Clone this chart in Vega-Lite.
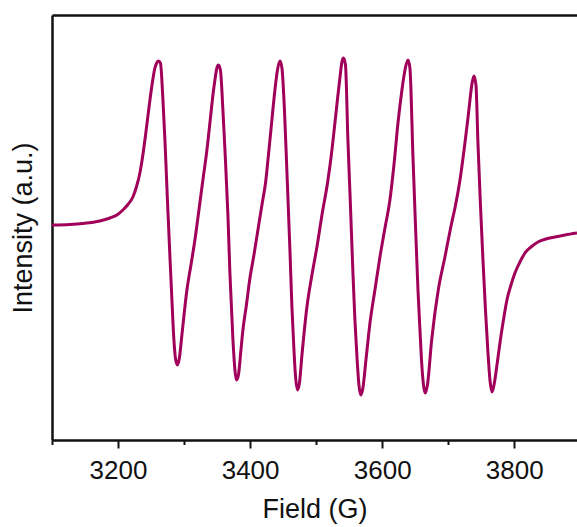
{
  "$schema": "https://vega.github.io/schema/vega-lite/v6.json",
  "width": 525,
  "height": 425,
  "autosize": "none",
  "padding": {"left": 52, "top": 15, "right": 0, "bottom": 87},
  "background": "white",
  "config": {
    "view": {"stroke": null},
    "font": "Liberation Sans",
    "axis": {"grid": false, "domainColor": "#111", "tickColor": "#111", "labelColor": "#111", "titleColor": "#111", "labelFont": "Liberation Sans", "titleFont": "Liberation Sans", "titleFontWeight": "normal", "domainWidth": 2.5, "tickWidth": 2}
  },
  "data": {"values": [
    {"field": 3100, "intensity": 0},
    {"field": 3127.1, "intensity": 0.5},
    {"field": 3146.8, "intensity": 1.5},
    {"field": 3172.5, "intensity": 4},
    {"field": 3187.7, "intensity": 7},
    {"field": 3198.3, "intensity": 10},
    {"field": 3207.4, "intensity": 15},
    {"field": 3214.9, "intensity": 20.5},
    {"field": 3222.5, "intensity": 28},
    {"field": 3227.8, "intensity": 38},
    {"field": 3233.1, "intensity": 52},
    {"field": 3236.9, "intensity": 67},
    {"field": 3240.7, "intensity": 85},
    {"field": 3244.5, "intensity": 105},
    {"field": 3248.3, "intensity": 125},
    {"field": 3252.1, "intensity": 143},
    {"field": 3255.8, "intensity": 157},
    {"field": 3258.9, "intensity": 162.5},
    {"field": 3261.1, "intensity": 164},
    {"field": 3264.2, "intensity": 162},
    {"field": 3268.0, "intensity": 125},
    {"field": 3271.0, "intensity": 85},
    {"field": 3274.8, "intensity": 25},
    {"field": 3278.6, "intensity": -32},
    {"field": 3281.6, "intensity": -75},
    {"field": 3284.6, "intensity": -115},
    {"field": 3286.9, "intensity": -133},
    {"field": 3289.9, "intensity": -140},
    {"field": 3292.9, "intensity": -133},
    {"field": 3296.7, "intensity": -110},
    {"field": 3304.3, "intensity": -65},
    {"field": 3310.4, "intensity": -40},
    {"field": 3316.4, "intensity": -15},
    {"field": 3322.5, "intensity": 15},
    {"field": 3328.5, "intensity": 45},
    {"field": 3334.6, "intensity": 75},
    {"field": 3339.1, "intensity": 102},
    {"field": 3343.7, "intensity": 130},
    {"field": 3346.7, "intensity": 145},
    {"field": 3349.7, "intensity": 157},
    {"field": 3352.0, "intensity": 160},
    {"field": 3355.0, "intensity": 155},
    {"field": 3358.8, "intensity": 115},
    {"field": 3361.9, "intensity": 75},
    {"field": 3366.4, "intensity": 10},
    {"field": 3369.4, "intensity": -48},
    {"field": 3374.0, "intensity": -115},
    {"field": 3377.0, "intensity": -145},
    {"field": 3379.3, "intensity": -155},
    {"field": 3382.3, "intensity": -150},
    {"field": 3386.1, "intensity": -125},
    {"field": 3389.1, "intensity": -105},
    {"field": 3394.4, "intensity": -80},
    {"field": 3399.3, "intensity": -55},
    {"field": 3405.8, "intensity": -30},
    {"field": 3411.8, "intensity": -5},
    {"field": 3417.9, "intensity": 20},
    {"field": 3423.9, "intensity": 45},
    {"field": 3427.0, "intensity": 65},
    {"field": 3431.5, "intensity": 95},
    {"field": 3437.6, "intensity": 135},
    {"field": 3441.4, "intensity": 155},
    {"field": 3445.2, "intensity": 164},
    {"field": 3448.2, "intensity": 157},
    {"field": 3452.0, "intensity": 115},
    {"field": 3455.8, "intensity": 52},
    {"field": 3460.3, "intensity": -25},
    {"field": 3463.3, "intensity": -82},
    {"field": 3466.4, "intensity": -125},
    {"field": 3468.6, "intensity": -150},
    {"field": 3471.7, "intensity": -165},
    {"field": 3474.7, "intensity": -158},
    {"field": 3478.5, "intensity": -130},
    {"field": 3486.0, "intensity": -82},
    {"field": 3493.6, "intensity": -50},
    {"field": 3501.2, "intensity": -22},
    {"field": 3508.8, "intensity": 10},
    {"field": 3517.9, "intensity": 45},
    {"field": 3523.9, "intensity": 75},
    {"field": 3528.4, "intensity": 102},
    {"field": 3533.0, "intensity": 130},
    {"field": 3536.0, "intensity": 147},
    {"field": 3539.0, "intensity": 163},
    {"field": 3541.3, "intensity": 167},
    {"field": 3544.4, "intensity": 160},
    {"field": 3548.1, "intensity": 85},
    {"field": 3551.9, "intensity": 20},
    {"field": 3555.7, "intensity": -48},
    {"field": 3558.7, "intensity": -95},
    {"field": 3561.8, "intensity": -132},
    {"field": 3564.8, "intensity": -160},
    {"field": 3567.8, "intensity": -170},
    {"field": 3570.8, "intensity": -163},
    {"field": 3575.4, "intensity": -135},
    {"field": 3581.5, "intensity": -98},
    {"field": 3589.0, "intensity": -65},
    {"field": 3596.6, "intensity": -32},
    {"field": 3604.2, "intensity": -3},
    {"field": 3611.7, "intensity": 25},
    {"field": 3617.8, "intensity": 60},
    {"field": 3623.9, "intensity": 102},
    {"field": 3629.9, "intensity": 135},
    {"field": 3634.5, "intensity": 155},
    {"field": 3639.0, "intensity": 165},
    {"field": 3642.0, "intensity": 157},
    {"field": 3646.6, "intensity": 68},
    {"field": 3650.4, "intensity": 0},
    {"field": 3654.2, "intensity": -65},
    {"field": 3657.2, "intensity": -105},
    {"field": 3660.2, "intensity": -142},
    {"field": 3663.2, "intensity": -163},
    {"field": 3665.5, "intensity": -168},
    {"field": 3668.5, "intensity": -160},
    {"field": 3674.9, "intensity": -115},
    {"field": 3684.9, "intensity": -65},
    {"field": 3695.0, "intensity": -32},
    {"field": 3705.2, "intensity": 2},
    {"field": 3710.2, "intensity": 17},
    {"field": 3717.8, "intensity": 45},
    {"field": 3725.3, "intensity": 82},
    {"field": 3729.9, "intensity": 107},
    {"field": 3732.9, "intensity": 125},
    {"field": 3735.9, "intensity": 141},
    {"field": 3739.0, "intensity": 149},
    {"field": 3742.0, "intensity": 140},
    {"field": 3745.0, "intensity": 82},
    {"field": 3748.8, "intensity": 20},
    {"field": 3752.6, "intensity": -35},
    {"field": 3756.4, "intensity": -85},
    {"field": 3760.2, "intensity": -128},
    {"field": 3763.2, "intensity": -155},
    {"field": 3766.2, "intensity": -167},
    {"field": 3769.3, "intensity": -160},
    {"field": 3773.8, "intensity": -140},
    {"field": 3778.3, "intensity": -118},
    {"field": 3783.6, "intensity": -95},
    {"field": 3788.9, "intensity": -75},
    {"field": 3795.0, "intensity": -60},
    {"field": 3801.0, "intensity": -48},
    {"field": 3808.6, "intensity": -37},
    {"field": 3816.2, "intensity": -28},
    {"field": 3825.3, "intensity": -22},
    {"field": 3835.9, "intensity": -17},
    {"field": 3848.0, "intensity": -14},
    {"field": 3861.6, "intensity": -12},
    {"field": 3876.8, "intensity": -10},
    {"field": 3895.0, "intensity": -8}
  ]},
  "encoding": {
    "x": {"field": "field", "type": "quantitative", "scale": {"domain": [3100, 3895], "nice": false, "zero": false}},
    "y": {"field": "intensity", "type": "quantitative", "scale": {"domain": [-215, 210], "nice": false, "zero": false},
      "axis": {"title": "Intensity (a.u.)", "labels": false, "ticks": false, "domain": true, "titleFontSize": 27, "titlePadding": 15}}
  },
  "layer": [
    {
      "mark": {"type": "line", "color": "#a0005a", "strokeWidth": 3, "interpolate": "monotone", "clip": true},
      "encoding": {
        "x": {"field": "field", "type": "quantitative", "axis": {"orient": "bottom", "values": [3200, 3400, 3600, 3800], "format": "d", "tickSize": 8, "labelFontSize": 26, "labelPadding": 9, "title": "Field (G)", "titleFontSize": 27, "titlePadding": 13}}
      }
    },
    {
      "mark": {"type": "point", "opacity": 0},
      "encoding": {
        "x": {"field": "field", "type": "quantitative", "axis": {"orient": "bottom", "values": [3100, 3300, 3500, 3700], "tickSize": 4.5, "labels": false, "domain": false, "title": null}}
      }
    },
    {
      "mark": {"type": "point", "opacity": 0},
      "encoding": {
        "x": {"field": "field", "type": "quantitative", "axis": {"orient": "top", "ticks": false, "labels": false, "domain": true, "title": null}}
      }
    }
  ],
  "resolve": {"axis": {"x": "independent"}}
}
